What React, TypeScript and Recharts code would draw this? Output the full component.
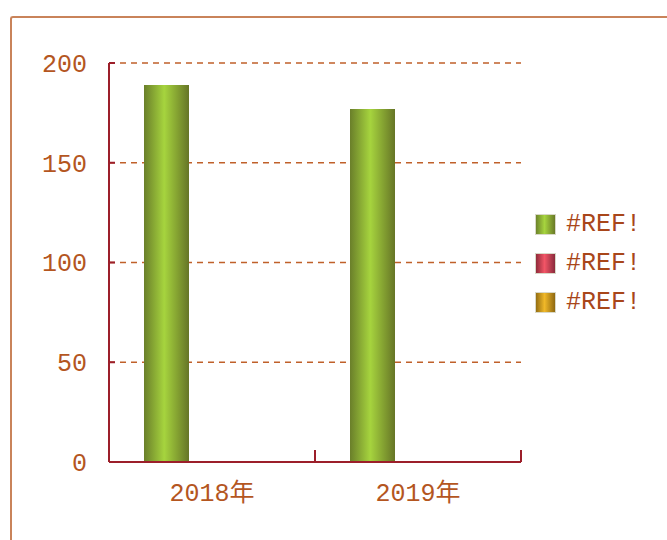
import React from 'react';
import { BarChart, Bar, XAxis, YAxis, CartesianGrid, Legend } from 'recharts';

const categories = ['2018年', '2019年'];
const seriesA = [189, 177];
const seriesB: (number | null)[] = [null, null];
const seriesC: (number | null)[] = [null, null];
const seriesNames = ['#REF!', '#REF!', '#REF!'];
const yTicks = [0, 50, 100, 150, 200];

const data = categories.map((name, i) => ({
  name,
  a: seriesA[i],
  b: seriesB[i],
  c: seriesC[i],
}));

const gradients = [
  { id: 'gA', edge: '#6a7f2a', mid: '#a6d43e', edge2: '#667526' },
  { id: 'gB', edge: '#8a2838', mid: '#f25566', edge2: '#84283a' },
  { id: 'gC', edge: '#8f6a12', mid: '#f0b828', edge2: '#8a6410' },
];

const FONT = '"Liberation Mono", "DejaVu Sans Mono", "Noto Sans CJK SC", monospace';
const TEXT = '#b4561f';
const AXIS = '#9c1f2a';
const GRID = '#c0602a';
const X_MARGIN = 15;
const X_TICK = 6;

const NoLabel = () => <g />;

// category label plus the small inward tick at the right edge of its band
const XTick = (props: any) => {
  const { x, y, payload, width, visibleTicksCount } = props;
  const band = width / visibleTicksCount;
  const axisY = y - X_MARGIN - X_TICK;
  const ex = x + band / 2;
  return (
    <g>
      <line x1={ex} x2={ex} y1={axisY} y2={axisY - 12} stroke={AXIS} strokeWidth={2} />
      <text x={x} y={y} dy="0.71em" textAnchor="middle" fill={TEXT} fontSize={25} fontFamily={FONT}>
        {payload.value}
      </text>
    </g>
  );
};

const LegendBox = () => (
  <div style={{ fontFamily: FONT, fontSize: 25, color: '#a8461a', width: 130 }}>
    {seriesNames.map((n, i) => (
      <div key={i} style={{ display: 'flex', alignItems: 'center', height: 39 }}>
        <svg width={21} height={21} style={{ marginRight: 10 }}>
          <defs>
            <linearGradient id={`lg${i}`} x1="0" y1="0" x2="1" y2="0">
              <stop offset="0%" stopColor={gradients[i].edge} />
              <stop offset="45%" stopColor={gradients[i].mid} />
              <stop offset="100%" stopColor={gradients[i].edge2} />
            </linearGradient>
          </defs>
          <rect x={0.5} y={0.5} width={20} height={20} fill={`url(#lg${i})`} stroke="#d8d8c8" strokeWidth={1} />
        </svg>
        <span>{n}</span>
      </div>
    ))}
  </div>
);

export default function App() {
  return (
    <div style={{ position: 'absolute', left: 0, top: 0, width: 667, height: 540, background: '#fff', overflow: 'hidden' }}>
      <div
        style={{
          position: 'absolute',
          left: 10,
          top: 16,
          width: 700,
          height: 600,
          borderTop: '2px solid #c9835a',
          borderLeft: '2px solid #c9835a',
          borderTopLeftRadius: 3,
        }}
      />
      <BarChart
        width={667}
        height={540}
        data={data}
        margin={{ top: 63, right: 16, bottom: 0, left: 49 }}
        barCategoryGap={35}
        barGap={0}
        style={{ position: 'absolute', left: 0, top: 0 }}
      >
        <defs>
          {gradients.map((g) => (
            <linearGradient key={g.id} id={g.id} x1="0" y1="0" x2="1" y2="0">
              <stop offset="0%" stopColor={g.edge} />
              <stop offset="45%" stopColor={g.mid} />
              <stop offset="100%" stopColor={g.edge2} />
            </linearGradient>
          ))}
        </defs>
        <CartesianGrid vertical={false} stroke={GRID} strokeDasharray="6 5" strokeWidth={1.5} />
        <XAxis
          dataKey="name"
          height={78}
          axisLine={{ stroke: AXIS, strokeWidth: 2 }}
          tickLine={false}
          tickSize={X_TICK}
          tickMargin={X_MARGIN}
          interval={0}
          tick={XTick}
        />
        <YAxis
          domain={[0, 200]}
          ticks={yTicks}
          width={60}
          axisLine={{ stroke: AXIS, strokeWidth: 2 }}
          tickLine={false}
          tickMargin={16}
          tick={{ fill: TEXT, fontSize: 25, fontFamily: FONT }}
        />
        <YAxis
          yAxisId="inner"
          domain={[0, 200]}
          allowDataOverflow
          ticks={yTicks}
          interval={0}
          mirror
          tick={NoLabel}
          axisLine={false}
          tickSize={6}
          tickLine={{ stroke: AXIS, strokeWidth: 2 }}
          width={60}
        />
        <Bar dataKey="a" name={seriesNames[0]} fill="url(#gA)" isAnimationActive={false} />
        <Bar dataKey="b" name={seriesNames[1]} fill="url(#gB)" isAnimationActive={false} />
        <Bar dataKey="c" name={seriesNames[2]} fill="url(#gC)" isAnimationActive={false} />
        <Legend
          layout="vertical"
          align="right"
          verticalAlign="middle"
          content={<LegendBox />}
          wrapperStyle={{ position: 'absolute', left: 535, top: 205, width: 130 }}
        />
      </BarChart>
    </div>
  );
}
